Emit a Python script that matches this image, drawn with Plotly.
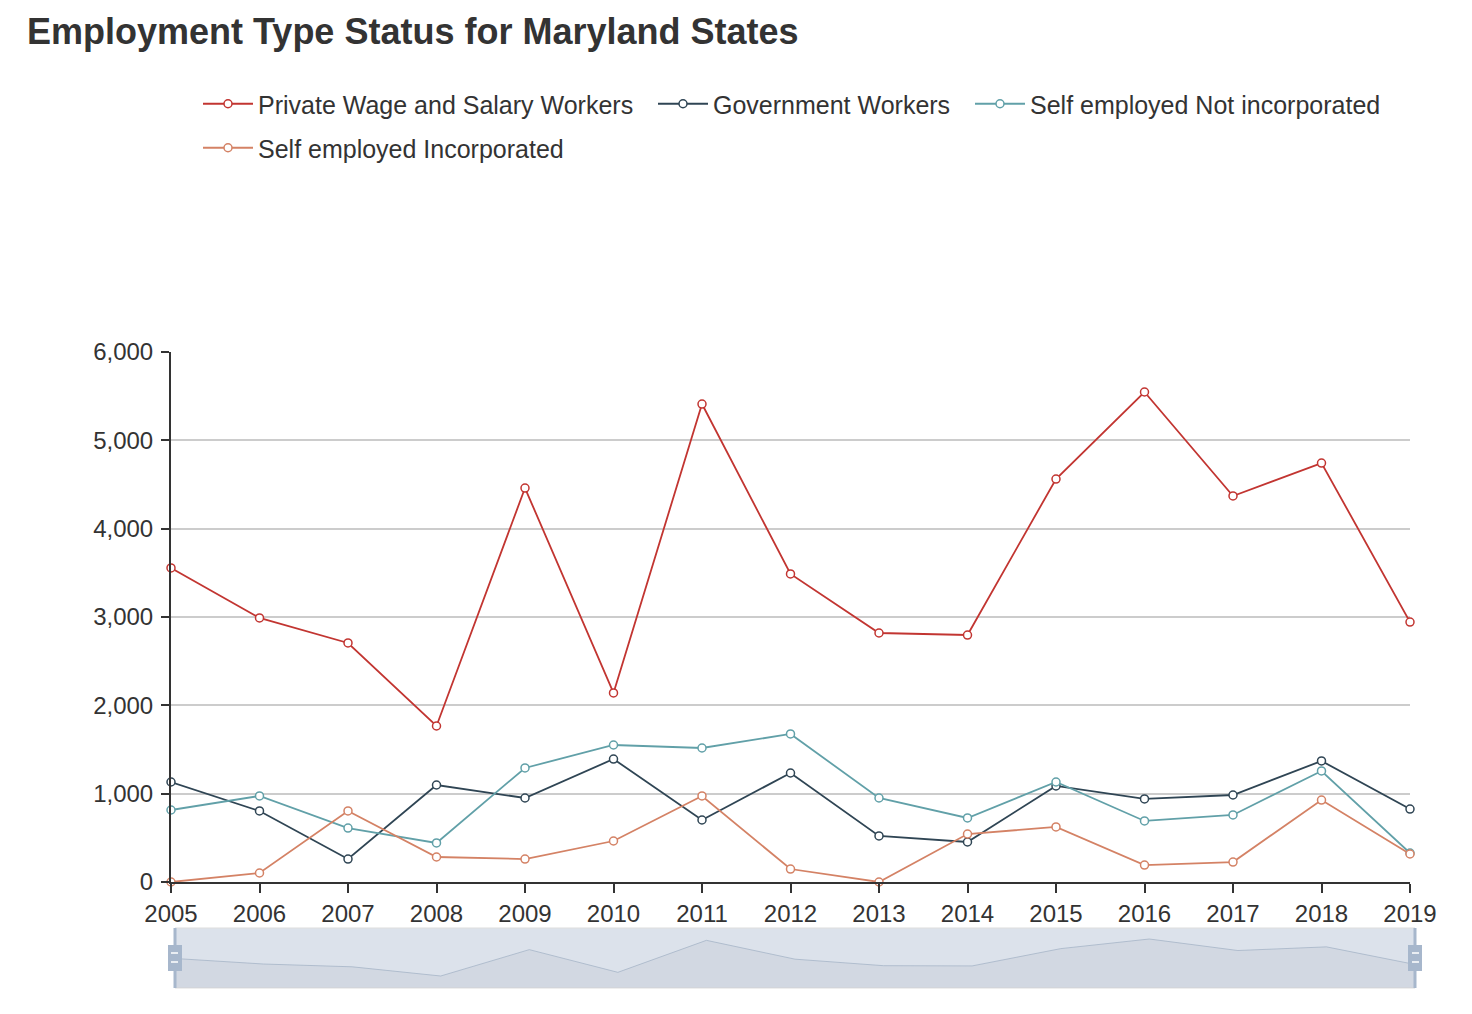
import plotly.graph_objects as go

years = [2005, 2006, 2007, 2008, 2009, 2010, 2011, 2012, 2013, 2014, 2015, 2016, 2017, 2018, 2019]
private_wage = [3555, 2989, 2706, 1766, 4460, 2140, 5411, 3487, 2819, 2796, 4562, 5547, 4370, 4743, 2943]
government = [1132, 804, 260, 1098, 951, 1392, 702, 1234, 521, 453, 1087, 940, 985, 1370, 826]
self_not_inc = [815, 974, 611, 442, 1291, 1551, 1517, 1676, 951, 725, 1132, 691, 759, 1257, 328]
self_inc = [0, 102, 804, 283, 260, 464, 974, 147, 0, 543, 623, 192, 226, 928, 317]

series = [
    ("Private Wage and Salary Workers", private_wage, "#c23531", "legend", 390),
    ("Government Workers", government, "#2f4554", "legend", 252),
    ("Self employed Not incorporated", self_not_inc, "#61a0a8", "legend", None),
    ("Self employed Incorporated", self_inc, "#d48265", "legend2", None),
]
y_ticks = [0, 1000, 2000, 3000, 4000, 5000, 6000]

FONT = "Liberation Sans, Arial, sans-serif"
fig = go.Figure()
for name, vals, color, leg, lw in series:
    tr = go.Scatter(
        x=years, y=vals, name=name, mode="lines+markers",
        line=dict(color=color, width=1.8),
        marker=dict(symbol="circle", size=8, color="white", line=dict(color=color, width=1.5)),
        legend=leg, cliponaxis=False,
    )
    if lw:
        tr.legendwidth = lw
    fig.add_trace(tr)

# data-zoom slider shadow (first series)
fig.add_trace(go.Scatter(
    x=years, y=private_wage, xaxis="x2", yaxis="y2", mode="lines",
    line=dict(color="rgba(160,175,195,0.7)", width=1),
    fill="tozeroy", fillcolor="rgba(47,69,84,0.06)",
    showlegend=False, hoverinfo="skip",
))

W, H = 1472, 1014
L, R, T, B = 171, 1472 - 1415, 352, 1014 - 988
pw = W - L - R
ph = H - T - B
main_x_end = (1410 - L) / pw
main_y_start = (988 - 882) / ph
sl_x_start = (175 - L) / pw
sl_y_end = (988 - 928) / ph

fig.update_layout(
    width=W, height=H,
    margin=dict(l=L, r=R, t=T, b=B),
    paper_bgcolor="white", plot_bgcolor="white",
    font=dict(family=FONT, color="#333333"),
    title=dict(text="<b>Employment Type Status for Maryland States</b>",
               x=27 / W, xanchor="left", y=1 - 31 / H, yanchor="middle",
               font=dict(size=36, color="#333333", family=FONT)),
    xaxis=dict(domain=[0, main_x_end], range=[2005, 2019], tickmode="array",
               tickvals=years, ticktext=[str(y) for y in years],
               showgrid=False, zeroline=False, showline=True, linecolor="#333333", linewidth=2,
               ticks="outside", ticklen=9, tickwidth=2, tickcolor="#333333",
               tickfont=dict(size=24, color="#333333"), anchor="y"),
    yaxis=dict(domain=[main_y_start, 1], range=[0, 6000], tickvals=y_ticks,
               tickformat=",d", showgrid=True, gridcolor="#cccccc", gridwidth=1.5,
               zeroline=False, showline=True, linecolor="#333333", linewidth=2,
               ticks="outside", ticklen=8, tickwidth=2, tickcolor="#333333",
               ticklabelstandoff=3,
               tickfont=dict(size=24, color="#333333"), anchor="x"),
    xaxis2=dict(domain=[sl_x_start, 1], range=[2005, 2019], visible=False, anchor="y2",
                fixedrange=True),
    yaxis2=dict(domain=[0, sl_y_end], range=[540, 6671], visible=False, anchor="x2",
                fixedrange=True),
    legend=dict(orientation="h", x=(198 - L) / pw, xanchor="left",
                y=1 + (352 - 104) / ph, yanchor="middle",
                font=dict(size=25, color="#333333", family=FONT),
                bgcolor="rgba(0,0,0,0)", itemwidth=50),
    legend2=dict(orientation="h", x=(198 - L) / pw, xanchor="left",
                 y=1 + (352 - 148) / ph, yanchor="middle",
                 font=dict(size=25, color="#333333", family=FONT),
                 bgcolor="rgba(0,0,0,0)", itemwidth=50),
    showlegend=True,
    shapes=[
        dict(type="rect", xref="x2 domain", yref="y2 domain", x0=0, x1=1, y0=0, y1=1,
             fillcolor="rgba(167,183,204,0.4)", line=dict(color="#dddddd", width=1), layer="below"),
        dict(type="line", xref="x2 domain", yref="y2 domain", x0=0, x1=0, y0=0, y1=1,
             line=dict(color="#a7b7cc", width=3)),
        dict(type="line", xref="x2 domain", yref="y2 domain", x0=1, x1=1, y0=0, y1=1,
             line=dict(color="#a7b7cc", width=3)),
        dict(type="rect", xref="x2 domain", yref="y2 domain", x0=-7 / 1240, x1=7 / 1240,
             y0=17 / 60, y1=43 / 60, fillcolor="#a7b7cc", line=dict(width=0)),
        dict(type="rect", xref="x2 domain", yref="y2 domain", x0=1 - 7 / 1240, x1=1 + 7 / 1240,
             y0=17 / 60, y1=43 / 60, fillcolor="#a7b7cc", line=dict(width=0)),
        dict(type="line", xref="x2 domain", yref="y2 domain", x0=-4 / 1240, x1=3 / 1240,
             y0=35 / 60, y1=35 / 60, line=dict(color="white", width=1.5)),
        dict(type="line", xref="x2 domain", yref="y2 domain", x0=-4 / 1240, x1=3 / 1240,
             y0=26 / 60, y1=26 / 60, line=dict(color="white", width=1.5)),
        dict(type="line", xref="x2 domain", yref="y2 domain", x0=1 - 3 / 1240, x1=1 + 4 / 1240,
             y0=35 / 60, y1=35 / 60, line=dict(color="white", width=1.5)),
        dict(type="line", xref="x2 domain", yref="y2 domain", x0=1 - 3 / 1240, x1=1 + 4 / 1240,
             y0=26 / 60, y1=26 / 60, line=dict(color="white", width=1.5)),
    ],
)

fig.write_html("out.html")
